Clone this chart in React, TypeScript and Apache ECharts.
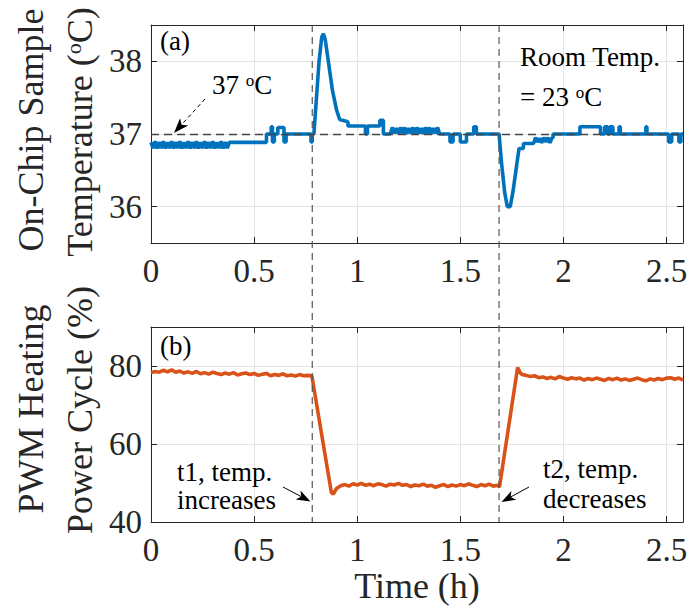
import React, { useEffect, useRef } from "react";
import * as echarts from "echarts";

const FONT = "Liberation Serif, Times New Roman, serif";
const BLUE = "#0072BD";
const ORANGE = "#D95319";
const AXIS = "#262626";
const GRIDC = "#e4e4e4";

const X_MIN = 0;
const X_MAX = 2.58;
const X_TICKS = [0, 0.5, 1, 1.5, 2, 2.5];
const TEMP_MIN = 35.5;
const TEMP_MAX = 38.5;
const TEMP_TICKS = [36, 37, 38];
const PWM_MIN = 40;
const PWM_MAX = 90;
const PWM_TICKS = [40, 60, 80];
const SETPOINT = 37;
const T1 = 0.782;
const T2 = 1.688;

// dense quantised band at the start (t = 0 .. 0.38, every 0.01 h)
const tempBand1 = [
  36.885, 36.805, 36.9, 36.8, 36.89, 36.805, 36.9, 36.8, 36.885, 36.805, 36.9, 36.8, 36.89,
  36.805, 36.9, 36.8, 36.885, 36.805, 36.9, 36.8, 36.89, 36.805, 36.9, 36.8, 36.885, 36.805,
  36.9, 36.8, 36.89, 36.805, 36.9, 36.8, 36.885, 36.805, 36.9, 36.8, 36.89, 36.805, 36.885,
];
// dense band around 37.05 (t = 1.16 .. 1.40, every 0.01 h)
const tempBand2 = [
  37.0, 37.09, 37.01, 37.08, 37.0, 37.09, 37.01, 37.09, 37.0, 37.08, 37.01, 37.09, 37.0,
  37.09, 37.01, 37.08, 37.0, 37.09, 37.01, 37.09, 37.0, 37.08, 37.01, 37.09, 37.0,
];
// dense band after recovery (t = 1.855 .. 1.945, every 0.01 h)
const tempBand3 = [36.87, 36.95, 36.89, 36.94, 36.88, 36.95, 36.89, 36.95, 36.88, 36.95];

const tempSteps1: [number, number][] = [
  [0.383, 36.885], [0.56, 36.885], [0.56, 37.0], [0.583, 37.0], [0.583, 37.1], [0.589, 37.1],
  [0.589, 36.89], [0.598, 36.89], [0.598, 37.0], [0.615, 37.0], [0.615, 37.09], [0.645, 37.09],
  [0.645, 36.89], [0.655, 36.89], [0.655, 37.0], [0.776, 37.0], [0.776, 36.89], [0.782, 36.89],
  [0.782, 37.0], [0.79, 37.0], [0.8, 37.4], [0.815, 38.0], [0.828, 38.33], [0.836, 38.38],
  [0.845, 38.3], [0.86, 38.0], [0.88, 37.6], [0.9, 37.33], [0.915, 37.2], [0.955, 37.17],
  [0.955, 37.11], [1.04, 37.11], [1.04, 37.0], [1.05, 37.0], [1.05, 37.11], [1.11, 37.11],
  [1.11, 37.19], [1.127, 37.19], [1.127, 37.0], [1.155, 37.0],
];
const tempSteps2: [number, number][] = [
  [1.4, 37.0], [1.45, 37.0], [1.45, 36.89], [1.465, 36.89], [1.465, 37.0], [1.5, 37.0],
  [1.5, 36.89], [1.53, 36.89], [1.53, 37.0], [1.565, 37.0], [1.565, 37.1], [1.578, 37.1],
  [1.578, 37.0], [1.688, 37.0], [1.7, 36.6], [1.715, 36.2], [1.728, 36.0], [1.742, 36.0],
  [1.755, 36.2], [1.77, 36.5], [1.782, 36.75], [1.785, 36.8], [1.806, 36.8], [1.806, 36.87],
  [1.85, 36.87],
];
const tempSteps3: [number, number][] = [
  [1.95, 36.95], [1.95, 37.0], [2.08, 37.0], [2.08, 37.1], [2.18, 37.1], [2.18, 37.0],
  [2.2, 37.0], [2.2, 37.1], [2.215, 37.1], [2.215, 37.0], [2.225, 37.0], [2.225, 37.1],
  [2.24, 37.1], [2.24, 37.0], [2.27, 37.0], [2.27, 37.1], [2.276, 37.1], [2.276, 37.0],
  [2.4, 37.0], [2.4, 37.1], [2.405, 37.1], [2.405, 37.0], [2.51, 37.0], [2.51, 36.89],
  [2.525, 36.89], [2.525, 37.0], [2.56, 37.0], [2.56, 36.89], [2.57, 36.89], [2.57, 37.0],
  [2.58, 37.0],
];

// PWM duty cycle, sampled every 0.02 h
const pwmHigh1 = [
  78.3, 78.6, 78.4, 78.9, 78.5, 79.0, 78.4, 78.7, 78.2, 78.5, 78.1, 78.6, 78.0, 78.3, 77.9,
  78.4, 78.1, 77.8, 78.2, 77.9, 78.3, 77.7, 78.0, 78.2, 77.8, 78.1, 77.6, 77.9, 78.1, 77.5,
  77.8, 77.6, 78.0, 77.5, 77.7, 77.4, 77.8, 77.5, 77.6, 77.5,
]; // t = 0 .. 0.78
const pwmDrop: [number, number][] = [[0.875, 47.5], [0.885, 47.2]];
const pwmLow = [
  48.6, 49.3, 49.6, 49.2, 49.8, 49.5, 49.9, 49.4, 49.7, 49.3, 49.8, 49.6, 49.2, 49.7, 49.5,
  49.9, 49.4, 49.6, 49.1, 49.5, 49.3, 49.7, 49.2, 49.4, 48.9, 49.3, 49.6, 49.1, 49.5, 49.2,
  49.6, 49.3, 49.8, 49.4, 49.1, 49.6, 49.3, 49.7, 49.2, 49.4,
]; // t = 0.90 .. 1.68
const pwmRise: [number, number][] = [[1.69, 49.0], [1.778, 79.6], [1.79, 78.3], [1.8, 77.8]];
const pwmHigh2 = [
  77.6, 77.3, 77.5, 77.0, 77.2, 76.8, 77.1, 76.7, 77.3, 76.9, 76.6, 77.0, 76.7, 76.9, 76.4,
  76.8, 76.5, 76.9, 76.6, 76.3, 76.8, 76.5, 76.9, 76.4, 76.7, 76.3, 76.6, 76.9, 76.5, 76.2,
  76.7, 76.4, 76.8, 76.5, 76.9, 77.0, 76.6, 76.9, 76.4,
]; // t = 1.82 .. 2.58

function sampled(start: number, step: number, vals: number[]): [number, number][] {
  return vals.map((v, i) => [+(start + i * step).toFixed(4), v]);
}

const tempData: [number, number][] = [
  ...sampled(0, 0.01, tempBand1),
  ...tempSteps1,
  ...sampled(1.16, 0.01, tempBand2),
  ...tempSteps2,
  ...sampled(1.855, 0.01, tempBand3),
  ...tempSteps3,
];
const pwmData: [number, number][] = [
  ...sampled(0, 0.02, pwmHigh1),
  ...pwmDrop,
  ...sampled(0.9, 0.02, pwmLow),
  ...pwmRise,
  ...sampled(1.82, 0.02, pwmHigh2),
];

function arrow(x1: number, y1: number, x2: number, y2: number, dashed: boolean, hl = 15, hw = 5.5): any[] {
  const dx = x2 - x1;
  const dy = y2 - y1;
  const L = Math.hypot(dx, dy);
  const ux = dx / L;
  const uy = dy / L;
  const nx = -uy;
  const ny = ux;
  const bx = x2 - ux * hl;
  const by = y2 - uy * hl;
  const kx = x2 - ux * hl * 0.75;
  const ky = y2 - uy * hl * 0.75;
  return [
    {
      type: "line",
      shape: { x1, y1, x2: kx, y2: ky },
      style: { stroke: "#000", lineWidth: 1, lineDash: dashed ? [4, 3] : null },
      z: 100,
    },
    {
      type: "polygon",
      shape: { points: [[x2, y2], [bx + nx * hw, by + ny * hw], [kx, ky], [bx - nx * hw, by - ny * hw]] },
      style: { fill: "#000" },
      z: 100,
    },
  ];
}

function txt(x: number, y: number, text: string, size: number, extra: any = {}): any {
  return {
    type: "text",
    x,
    y,
    z: 100,
    style: {
      text,
      font: `${size}px ${FONT}`,
      fill: extra.fill || "#000",
      align: extra.align || "left",
      verticalAlign: extra.va || "middle",
      lineHeight: extra.lineHeight,
      rich: {
        sup: {
          fontSize: Math.round(size * 0.62),
          fontFamily: FONT,
          fill: extra.fill || "#000",
          verticalAlign: "top",
          lineHeight: Math.round(size * 0.62),
        },
      },
    },
    ...(extra.rotation ? { rotation: extra.rotation } : {}),
  };
}

function xAxis(gridIndex: number, top: boolean): any {
  return {
    type: "value",
    gridIndex,
    min: X_MIN,
    max: X_MAX,
    position: top ? "top" : "bottom",
    axisLine: { show: true, onZero: false, lineStyle: { color: AXIS, width: 1 } },
    axisTick: { show: true, inside: true, length: 6, customValues: X_TICKS, lineStyle: { color: AXIS } },
    axisLabel: { show: false, customValues: X_TICKS },
    splitLine: { show: !top, lineStyle: { color: GRIDC, width: 1 } },
  };
}

function yAxis(gridIndex: number, right: boolean, min: number, max: number, ticks: number[]): any {
  return {
    type: "value",
    gridIndex,
    min,
    max,
    position: right ? "right" : "left",
    axisLine: { show: true, onZero: false, lineStyle: { color: AXIS, width: 1 } },
    axisTick: { show: true, inside: true, length: 6, customValues: ticks, lineStyle: { color: AXIS } },
    axisLabel: { show: false, customValues: ticks },
    splitLine: { show: !right, lineStyle: { color: GRIDC, width: 1 } },
  };
}

export default function App() {
  const ref = useRef<HTMLDivElement>(null);
  useEffect(() => {
    if (!ref.current) return;
    const chart = echarts.init(ref.current, null, { renderer: "svg" });
    chart.setOption({
      animation: false,
      backgroundColor: "#fff",
      grid: [
        { left: 151, top: 25, width: 532, height: 218 },
        { left: 151, top: 327, width: 532, height: 195 },
      ],
      xAxis: [xAxis(0, false), xAxis(1, false), xAxis(0, true), xAxis(1, true)],
      yAxis: [
        yAxis(0, false, TEMP_MIN, TEMP_MAX, TEMP_TICKS),
        yAxis(1, false, PWM_MIN, PWM_MAX, PWM_TICKS),
        yAxis(0, true, TEMP_MIN, TEMP_MAX, TEMP_TICKS),
        yAxis(1, true, PWM_MIN, PWM_MAX, PWM_TICKS),
      ],
      series: [
        {
          type: "line",
          name: "Temperature",
          xAxisIndex: 0,
          yAxisIndex: 0,
          data: tempData,
          showSymbol: false,
          lineStyle: { color: BLUE, width: 3.6 },
          itemStyle: { color: BLUE },
          z: 5,
          markLine: {
            silent: true,
            symbol: "none",
            label: { show: false },
            lineStyle: { color: "#444", width: 1.3, type: [8, 5] },
            data: [{ yAxis: SETPOINT }],
            z: 6,
          },
        },
        {
          type: "line",
          name: "PWM",
          xAxisIndex: 1,
          yAxisIndex: 1,
          data: pwmData,
          showSymbol: false,
          lineStyle: { color: ORANGE, width: 3.6 },
          itemStyle: { color: ORANGE },
          z: 5,
        },
      ],
    });

    const px = (v: number) => chart.convertToPixel({ xAxisIndex: 0 }, v) as number;
    const pyT = (v: number) => chart.convertToPixel({ yAxisIndex: 0 }, v) as number;
    const pyP = (v: number) => chart.convertToPixel({ yAxisIndex: 1 }, v) as number;
    const yTop = pyT(TEMP_MAX);
    const yTempBottom = pyT(TEMP_MIN);
    const yBot = pyP(PWM_MIN);
    const xLeft = px(X_MIN);

    const vlines = [T1, T2].map((t) => ({
      type: "line",
      shape: { x1: px(t), y1: yTop, x2: px(t), y2: yBot },
      style: { stroke: "#555", lineWidth: 1.2, lineDash: [7, 5] },
      z: 50,
    }));

    const TICK_SIZE = 33;
    const tickLabels: any[] = [
      ...X_TICKS.map((v) => txt(px(v), yTempBottom + 28, String(v), TICK_SIZE, { align: "center", fill: AXIS })),
      ...X_TICKS.map((v) => txt(px(v), yBot + 28, String(v), TICK_SIZE, { align: "center", fill: AXIS })),
      ...TEMP_TICKS.map((v) => txt(xLeft - 9, pyT(v), String(v), TICK_SIZE, { align: "right", fill: AXIS })),
      ...PWM_TICKS.map((v) => txt(xLeft - 9, pyP(v), String(v), TICK_SIZE, { align: "right", fill: AXIS })),
    ];

    chart.setOption({
      graphic: [
        ...vlines,
        ...tickLabels,
        txt(31, 130, "On-Chip Sample", 36, { align: "center", rotation: Math.PI / 2, fill: AXIS }),
        txt(80, 132, "Temperature ({sup|o}C)", 36, { align: "center", rotation: Math.PI / 2, fill: AXIS }),
        txt(31, 409, "PWM Heating", 36, { align: "center", rotation: Math.PI / 2, fill: AXIS }),
        txt(80, 410, "Power Cycle (%)", 36, { align: "center", rotation: Math.PI / 2, fill: AXIS }),
        txt(417, 586, "Time (h)", 36, { align: "center", fill: AXIS }),
        txt(160, 41, "(a)", 27),
        txt(160, 346, "(b)", 27),
        txt(212, 85, "37 {sup|o}C", 27),
        txt(520, 57, "Room Temp.", 27),
        txt(520, 97, "= 23 {sup|o}C", 27),
        txt(177, 486, "t1, temp.\nincreases", 27, { lineHeight: 28 }),
        txt(543, 484, "t2, temp.\ndecreases", 27, { lineHeight: 30 }),
        ...arrow(205, 99, 174, 133, true),
        ...arrow(283, 487, 310.5, 501.5, false, 14, 5),
        ...arrow(529, 487, 501.5, 502, false, 14, 5),
      ],
    });

    return () => chart.dispose();
  }, []);
  return (
    <div
      ref={ref}
      style={{ position: "fixed", left: 0, top: 0, width: 699, height: 616 }}
    />
  );
}
